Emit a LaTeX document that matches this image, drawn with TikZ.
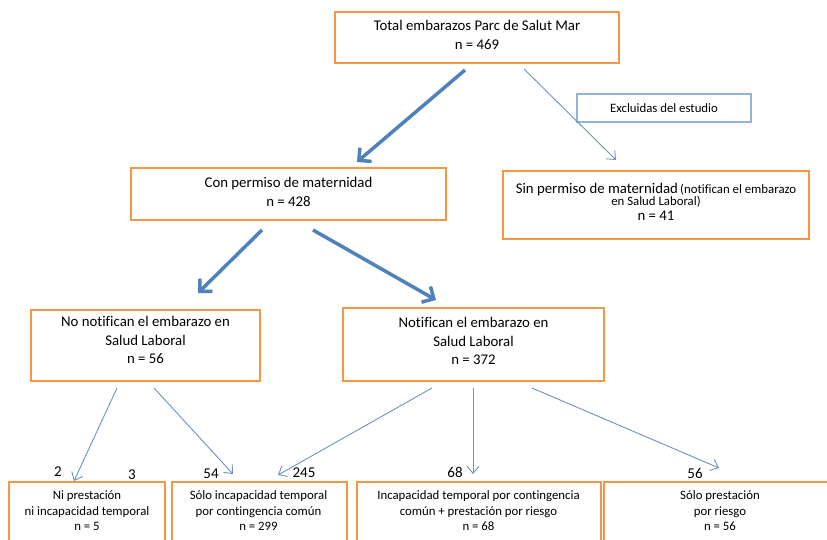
\documentclass[tikz,border=0pt]{standalone}
\usepackage{fontspec}
\setmainfont[Ligatures=NoCommon]{Carlito}
\usetikzlibrary{arrows.meta}
\definecolor{boxorange}{HTML}{F79646}
\definecolor{thickblue}{HTML}{4F81BD}
\definecolor{thinblue}{HTML}{6A93C8}
\definecolor{exclblue}{HTML}{95B3D7}
\begin{document}
\begin{tikzpicture}[x=1pt,y=-1pt,
  box/.style={rectangle, draw=boxorange, line width=1.1pt, inner sep=0pt, outer sep=0pt},
  exbox/.style={rectangle, draw=exclblue, line width=1.1pt, inner sep=0pt, outer sep=0pt},
  bigtxt/.style={font=\fontsize{14.8}{18.5}\selectfont, align=center, inner sep=0pt},
  smalltxt/.style={font=\fontsize{12.8}{15.5}\selectfont, align=center, inner sep=0pt},
  numtxt/.style={font=\fontsize{15}{18}\selectfont, inner sep=0pt},
  thickarrow/.style={draw=thickblue, line width=3.5pt, -{Straight Barb[length=9pt,width=18pt]}},
  thinarrow/.style={draw=thinblue, line width=0.9pt, -{Straight Barb[length=7pt,width=12pt]}}
]
\useasboundingbox (0,0) rectangle (827,540);
\clip (0,0) rectangle (827,540);
\fill[white] (0,0) rectangle (827,540);

% boxes
\node[box, minimum width=284pt, minimum height=51pt] (T) at (477,37.5) {};
\node[bigtxt] (Tt) at (477,35) {Total embarazos Parc de Salut Mar\\n = 469};

\node[box, minimum width=315pt, minimum height=52pt] (C) at (288.5,194) {};
\node[bigtxt] (Ct) at (288.5,192) {Con permiso de maternidad\\n = 428};

\node[exbox, minimum width=174pt, minimum height=28pt] (E) at (664,108) {};
\node[smalltxt] (Et) at (664,108) {Excluidas del estudio};

\node[box, minimum width=306pt, minimum height=68pt] (S) at (656,205) {};
\node[align=center, inner sep=0pt] (St) at (656,202) {{\fontsize{14.8}{15}\selectfont Sin permiso de maternidad} {\fontsize{12.8}{15}\selectfont (notifican el embarazo}\\
  {\fontsize{12.8}{15}\selectfont en Salud Laboral)}\\[3.5pt]
  {\fontsize{14.8}{15}\selectfont n = 41}};

\node[box, minimum width=229pt, minimum height=71pt] (N) at (145.5,345.5) {};
\node[bigtxt] (Nt) at (145.5,340) {No notifican el embarazo en\\Salud Laboral\\n = 56};

\node[box, minimum width=261pt, minimum height=73pt] (F) at (473.5,344.5) {};
\node[bigtxt] (Ft) at (473.5,341) {Notifican el embarazo en\\Salud Laboral\\n = 372};

\node[box, minimum width=156pt, minimum height=80pt] (B1) at (87,522) {};
\node[smalltxt] (B1t) at (87,511) {Ni prestación\\ni incapacidad temporal\\n = 5};

\node[box, minimum width=175pt, minimum height=80pt] (B2) at (259.5,522) {};
\node[smalltxt] (B2t) at (258.5,511) {Sólo incapacidad temporal\\por contingencia común\\n = 299};

\node[box, minimum width=244pt, minimum height=80pt] (B3) at (479,522) {};
\node[smalltxt] (B3t) at (478.5,511) {Incapacidad temporal por contingencia\\común + prestación por riesgo\\n = 68};

\node[box, minimum width=232pt, minimum height=80pt] (B4) at (720,522) {};
\node[smalltxt] (B4t) at (720,511) {Sólo prestación\\por riesgo\\n = 56};

% number labels
\node[numtxt] (l2) at (58,472) {2};
\node[numtxt] (l3) at (132,475) {3};
\node[numtxt] (l54) at (211,474) {54};
\node[numtxt] (l245) at (304,473) {245};
\node[numtxt] (l68) at (455,472) {68};
\node[numtxt] (l56) at (695,473) {56};

% arrows
\draw[thickarrow] ([shift={(-12,7)}]T.south) -- ([shift={(68.5,-6)}]C.north);
\draw[thinarrow] ([shift={(47,6)}]T.south) -- ([shift={(-40,-11)}]S.north);
\draw[thickarrow] ([shift={(-26.5,10)}]C.south) -- ([shift={(52.5,-17)}]N.north);
\draw[thickarrow] ([shift={(24.5,10)}]C.south) -- ([shift={(-37.5,-8)}]F.north);
\draw[thinarrow] ([shift={(-28.5,7)}]N.south) -- ([shift={(-13,-1)}]B1.north);
\draw[thinarrow] ([shift={(8.5,7)}]N.south) -- ([shift={(-26.5,-8)}]B2.north);
\draw[thinarrow] ([shift={(-41.5,7)}]F.south) -- ([shift={(18.5,-7)}]B2.north);
\draw[thinarrow] ([shift={(-0.5,7)}]F.south) -- ([shift={(-6,-8)}]B3.north);
\draw[thinarrow] ([shift={(58.5,7)}]F.south) -- ([shift={(-1,-14)}]B4.north);
\end{tikzpicture}
\end{document}
